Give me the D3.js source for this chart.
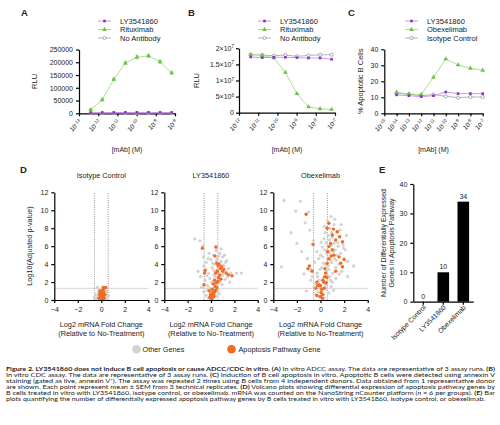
<!DOCTYPE html>
<html>
<head>
<meta charset="utf-8">
<script src="https://cdn.jsdelivr.net/npm/d3@7"></script>
<style>
body { margin: 0; background: #fff; }
svg { display: block; }
text { font-family: "Liberation Sans", Arial, sans-serif; fill: #222; }
.cap text { font-family: Lato, "Open Sans", sans-serif; }
</style>
</head>
<body>
<svg id="fig" width="500" height="425"></svg>
<script>

// ---- panels A-C : dose response ----
var concA = [4.07e-13, 1.63e-12, 6.51e-12, 2.6e-11, 1.04e-10, 4.17e-10, 1.67e-9, 6.67e-9];
var concB = [4.07e-12, 1.63e-11, 6.51e-11, 2.6e-10, 1.04e-9, 4.17e-9, 1.67e-8, 6.67e-8];
var concC = [1e-14, 1e-13, 1e-12, 1e-11, 1e-10, 1e-9, 1e-8, 1e-7];

var adccLY = [2500, 2800, 3000, 3200, 3400, 3500, 3300, 3000];
var adccRitux = [14000, 53000, 133000, 197000, 220000, 225000, 202000, 158000];
var adccRituxErr = [2500, 4000, 5000, 4500, 7000, 5500, 5000, 4000];
var adccNoAb = [1200, 1200, 1300, 1300, 1200, 1300, 1200, 1200];

var cdcLY = [1.73e7, 1.71e7, 1.72e7, 1.72e7, 1.71e7, 1.70e7, 1.70e7, 1.66e7];
var cdcRitux = [1.81e7, 1.78e7, 1.70e7, 1.25e7, 5.9e6, 1.8e6, 1.2e6, 1.0e6];
var cdcNoAb = [1.80e7, 1.79e7, 1.77e7, 1.79e7, 1.75e7, 1.78e7, 1.80e7, 1.80e7];

var apopLY = [11.5, 11.0, 10.4, 11.0, 13.3, 12.3, 12.3, 12.3];
var apopObex = [13.1, 12.1, 11.7, 22.5, 34.0, 30.2, 28.1, 26.9];
var apopIso = [12.5, 11.9, 11.0, 11.7, 10.6, 9.8, 10.2, 10.2];

var expA = [-13, -12, -11, -10, -9, -8];
var expB = [-12, -11, -10, -9, -8, -7];
var expC = [-15, -14, -13, -12, -11, -10, -9, -8, -7];

var ticksA = [0, 50000, 100000, 150000, 200000, 250000];
var ticksB = [0, 5e6, 1e7, 1.5e7, 2e7];
var ticksBMant = ["0", "5", "1", "1.5", "2"];
var ticksBExp = ["", "6", "7", "7", "7"];
var ticksC = [0, 10, 20, 30, 40];

// ---- panel D : volcano plots [log2 FC, -log10 adj p] ----
var isoOther = [[-0.4,0.2],[-0.3,0.5],[-0.25,0.9],[-0.2,1.2],[-0.15,0.3],[-0.1,0.7],[-0.05,1.0],[0,0.4],[0.05,0.8],[0.1,1.1],[0.15,0.2],[0.2,0.6],[0.25,0.9],[0.3,1.3],[0.35,0.4],[0.4,0.7],[0.45,1.0],[-0.35,1.4],[0.5,0.3],[-0.5,0.6],[0.1,1.45],[-0.1,0.1],[0.3,0.1],[0.6,0.5],[-0.6,0.3]];
var isoApop = [[-0.2,0.2],[-0.1,0.5],[0,0.3],[0,0.8],[0.05,0.1],[0.1,0.6],[0.1,1.0],[0.15,0.3],[0.2,0.5],[0.2,0.9],[-0.15,0.7],[0.25,0.2],[0.05,0.5],[-0.05,0.2],[0.3,0.6],[0.15,1.2],[0.2,1.4],[0.38,1.4],[-0.1,1.0],[0.12,0.05]];

var lyOther = [[-1.4,6.8],[-0.95,6.6],[-0.7,6.0],[-1.1,3.2],[-0.9,2.6],[-0.6,3.8],[-0.5,2.2],[-0.4,4.2],[-0.3,1.6],[-0.2,3.0],[-0.1,2.4],[0,4.5],[0.1,3.6],[0.15,1.8],[0.2,5.0],[0.25,2.8],[0.3,4.0],[0.35,1.5],[0.4,3.2],[0.45,5.5],[0.5,2.2],[0.55,4.6],[0.6,3.0],[0.65,1.9],[0.7,3.9],[0.75,5.2],[0.8,2.5],[0.85,4.3],[0.9,3.4],[0.95,1.7],[1.0,4.8],[1.05,2.9],[1.1,3.8],[1.2,2.3],[1.25,4.2],[1.3,3.1],[1.4,2.6],[1.5,3.5],[1.6,2.0],[1.7,3.0],[2.2,3.0],[2.6,3.0],[-0.8,1.4],[-0.6,0.9],[-0.4,0.5],[-0.2,0.2],[0,0.8],[0.1,0.3],[0.2,1.2],[0.3,0.6],[0.4,0.9],[0.5,0.4],[0.6,1.1],[0.7,0.7],[-0.3,1.1],[-0.1,1.3],[0.05,2.0],[0.35,2.6],[0.55,3.4],[0.75,2.0],[0.95,2.7],[-0.45,3.4],[-0.25,4.6],[0.15,4.1],[0.65,4.9],[0.85,5.7],[0.4,5.9],[-0.15,5.2],[1.15,5.0],[1.35,4.4],[-0.65,4.8],[-0.35,2.7],[0.25,3.3],[0.45,4.4],[1.0,3.9]];
var lyApop = [[-0.74,5.76],[0.43,5.9],[-0.51,3.3],[-0.55,3.0],[0.34,4.9],[0.5,4.1],[0.6,3.8],[0.7,4.0],[0.8,3.5],[0.9,3.7],[1.0,3.2],[1.1,3.4],[1.3,3.0],[1.5,2.8],[1.8,2.7],[0.55,3.2],[0.75,2.8],[0.4,3.0],[0.3,2.2],[0.2,1.8],[0.35,1.5],[0.45,1.9],[0.6,2.1],[0.1,1.2],[0.15,0.8],[0.05,0.5],[0,0.2],[-0.05,0.6],[0.25,0.4],[0.3,0.9],[-0.1,0.3],[0.1,0.1],[0.2,0.6],[0.4,1.1],[0.5,1.4],[-0.15,1.0],[0.65,2.5],[0.85,2.3],[-0.6,1.7]];

var obexOther = [[-3.1,11.1],[-1.7,11.0],[-2.1,9.9],[-1.0,9.8],[-1.3,8.6],[-2.5,7.5],[-3.3,3.7],[-2.0,6.3],[-1.6,5.4],[2.8,3.8],[2.3,4.3],[2.1,5.6],[-0.8,3.4],[-0.7,2.6],[-0.5,4.2],[-0.4,1.8],[-0.3,3.0],[-0.2,0.9],[-0.1,2.2],[0,1.4],[0.1,3.6],[0.2,0.6],[0.2,4.8],[0.3,2.5],[0.35,5.6],[0.4,1.6],[0.45,3.9],[0.5,6.4],[0.55,2.8],[0.6,4.6],[0.65,7.2],[0.7,3.4],[0.75,5.3],[0.8,8.0],[0.85,2.2],[0.9,6.1],[0.95,4.2],[1.0,7.0],[1.05,3.0],[1.1,5.4],[1.15,8.4],[1.2,4.6],[1.25,6.6],[1.3,3.6],[1.35,7.6],[1.4,5.0],[1.5,6.0],[1.55,4.0],[1.6,7.0],[1.7,5.2],[1.8,3.2],[1.9,6.2],[2.0,4.6],[0.6,8.8],[0.9,9.3],[1.2,9.0],[0.4,7.5],[0.3,6.8],[0.15,5.9],[0,5.0],[-0.15,4.6],[-0.3,5.4],[-0.6,6.6],[-0.9,7.8],[-0.4,0.6],[-0.1,0.3],[0.1,1.0],[0.3,0.2],[0.5,1.3],[0.7,0.8],[0.9,1.5],[1.1,1.1],[0.25,1.9],[0.55,2.0],[0.8,2.6],[1.0,2.0],[1.3,2.4],[1.6,2.9],[0.45,3.3],[0.65,3.8],[0.85,4.4],[1.05,5.0],[1.25,5.6],[1.45,6.4],[1.65,7.8],[0.75,6.7],[0.95,7.5],[1.15,6.3],[1.35,4.4],[0.55,5.2],[0.25,4.1],[-0.05,3.4],[-0.25,2.6],[-0.55,1.4],[-0.85,2.2],[-1.1,4.6],[-1.2,1.0],[0.05,6.4],[0.35,8.2],[1.75,8.4],[2.2,7.2],[1.95,5.8],[2.3,2.6],[-1.4,2.9]];
var obexApop = [[-1.22,9.55],[-0.63,6.2],[-0.94,3.8],[-1.06,3.5],[-0.71,3.2],[-0.3,2.0],[-0.25,1.6],[-0.4,1.3],[-0.1,1.7],[-0.3,0.5],[0,0.4],[0.05,0.8],[0.1,1.2],[0,1.6],[0.15,0.2],[0.2,0.6],[0.71,8.55],[0.57,8.0],[1.0,7.25],[1.43,7.6],[1.63,7.06],[1.29,6.7],[1.86,6.5],[0.71,5.95],[1.0,5.6],[1.14,5.0],[1.57,4.8],[1.71,4.1],[0.71,4.6],[0.57,4.1],[0.37,3.5],[0.43,3.0],[0.2,2.2],[0.29,2.0],[0.49,1.9],[1.86,3.7],[1.29,3.2],[2.0,4.5],[0.85,6.3],[0.6,5.4],[1.1,7.9],[0.9,4.9],[0.35,2.6],[0.3,1.3],[0.55,2.5]];

// ---- panel E ----
var degCats = ["Isotype Control", "LY3541860", "Obexelimab"];
var degCounts = [0, 10, 34];

var captionLines = [
	[["b", "Figure 2. LY3541860 does not induce B cell apoptosis or cause ADCC/CDC in vitro. "], ["b", "(A)"], ["", " In vitro ADCC assay. The data are representative of 3 assay runs. "], ["b", "(B)"]],
	[["", "In vitro CDC assay. The data are representative of 3 assay runs. "], ["b", "(C)"], ["", " Induction of B cell apoptosis in vitro. Apoptotic B cells were detected using annexin V"]],
	[["", "staining (gated as live, annexin V\u207A). The assay was repeated 2 times using B cells from 4 independent donors. Data obtained from 1 representative donor"]],
	[["", "are shown. Each point represent mean \u00B1 SEM from 3 technical replicates. "], ["b", "(D)"], ["", " Volcano plots showing differential expression of apoptosis pathway genes by"]],
	[["", "B cells treated in vitro with LY3541860, isotype control, or obexelimab. mRNA was counted on the NanoString nCounter platform ("], ["i", "n"], ["", " = 6 per groups). "], ["b", "(E)"], ["", " Bar"]],
	[["", "plots quantifying the number of differentially expressed apoptosis pathway genes by B cells treated in vitro with LY3541860, isotype control, or obexelimab."]]
];

var PURPLE = "#8a2fcf", PURPLE_L = "#c48fe8";
var GREEN = "#6cc24a", GREEN_L = "#9fdc80";
var GREY = "#8c8c8c", GREY_L = "#aaaaaa";
var ORANGE = "#f26b21", LIGHT = "#d2d2d2";

var svg = d3.select("#fig");
svg.append("rect").attr("width", 500).attr("height", 425).attr("fill", "#fff");

function styleAxis(g)
{
	g.selectAll("path,line").attr("stroke", "#000").attr("stroke-width", 1.2);
	g.selectAll("text").style("font-size", "7px").attr("fill", "#222");
}

function drawMarker(g, kind, x, y, color)
{
	if(kind == "square")
		g.append("rect").attr("x", x - 1.3).attr("y", y - 1.3).attr("width", 2.6).attr("height", 2.6).attr("fill", color);
	else if(kind == "tri")
		g.append("path").attr("d", d3.symbol().type(d3.symbolTriangle).size(10)()).attr("transform", "translate(" + x + "," + y + ")").attr("fill", color);
	else
		g.append("circle").attr("cx", x).attr("cy", y).attr("r", 1.6).attr("fill", "#fff").attr("stroke", color).attr("stroke-width", 0.7);
}

function dosePanel(opt)
{
	var g = svg.append("g");
	var x = d3.scaleLog().domain(opt.xDomain).range(opt.xRange);
	var y = d3.scaleLinear().domain(opt.yDomain).range(opt.yRange);

	var xa = g.append("g").attr("transform", "translate(0," + opt.yRange[0] + ")")
		.call(d3.axisBottom(x).tickValues(opt.exps.map(function(e) { return Math.pow(10, e); })).tickFormat("").tickSize(3).tickSizeOuter(0));
	styleAxis(xa);
	opt.exps.forEach(function(e)
	{
		var t = g.append("text").attr("text-anchor", "end").style("font-size", "6.5px")
			.attr("transform", "translate(" + (x(Math.pow(10, e)) + 3) + "," + (opt.yRange[0] + 9) + ") rotate(-45)");
		t.append("tspan").text("10");
		t.append("tspan").attr("dy", -2.5).style("font-size", "4.5px").text(e);
	});

	var ya = g.append("g").attr("transform", "translate(" + opt.xRange[0] + ",0)")
		.call(d3.axisLeft(y).tickValues(opt.yTicks).tickSize(3).tickSizeOuter(0).tickFormat(opt.yFormat || ""));
	styleAxis(ya);
	if(opt.yMant)
	{
		opt.yTicks.forEach(function(v, i)
		{
			var t = g.append("text").attr("text-anchor", "end").attr("x", opt.xRange[0] - 5).attr("y", y(v) + 2.5).style("font-size", "7px");
			t.append("tspan").text(opt.yMant[i] + (opt.yExp[i] ? "\u00D710" : ""));
			if(opt.yExp[i]) t.append("tspan").attr("dy", -2.5).style("font-size", "4.5px").text(opt.yExp[i]);
		});
	}

	opt.series.forEach(function(s)
	{
		var pts = s.values.map(function(v, i) { return [x(opt.conc[i]), y(v)]; });
		g.append("path").attr("d", d3.line()(pts)).attr("fill", "none").attr("stroke", s.line).attr("stroke-width", 0.9);
		if(s.err)
		{
			s.values.forEach(function(v, i)
			{
				var cx = x(opt.conc[i]);
				g.append("path").attr("d", "M" + (cx - 1.5) + "," + y(v + s.err[i]) + "h3M" + cx + "," + y(v + s.err[i]) + "V" + y(v - s.err[i]) + "M" + (cx - 1.5) + "," + y(v - s.err[i]) + "h3")
					.attr("stroke", s.color).attr("stroke-width", 0.6).attr("fill", "none");
			});
		}
		pts.forEach(function(p) { drawMarker(g, s.marker, p[0], p[1], s.color); });
	});

	// legend
	opt.legend.forEach(function(s, i)
	{
		var ly = 21 + i * 8.5;
		g.append("line").attr("x1", opt.legX).attr("x2", opt.legX + 13).attr("y1", ly).attr("y2", ly).attr("stroke", s.line).attr("stroke-width", 0.9);
		drawMarker(g, s.marker, opt.legX + 6.5, ly, s.color);
		g.append("text").attr("x", opt.legX + 22).attr("y", ly + 2.6).style("font-size", "7.5px").text(s.name);
	});

	g.append("text").attr("x", (opt.xRange[0] + opt.xRange[1]) / 2).attr("y", 152).attr("text-anchor", "middle").style("font-size", "7px").text("[mAb]  (M)");
	g.append("text").attr("transform", "translate(" + opt.yLabX + "," + (opt.yRange[0] + opt.yRange[1]) / 2 + ") rotate(-90)")
		.attr("text-anchor", "middle").style("font-size", "7.5px").text(opt.yLabel);
	g.append("text").attr("x", opt.tag[1]).attr("y", 16).style("font-size", "9.5px").style("font-weight", "bold").attr("fill", "#000").text(opt.tag[0]);
}

var sLY = { name: "LY3541860", color: PURPLE, line: PURPLE_L, marker: "square" };
var sRit = { name: "Rituximab", color: GREEN, line: GREEN_L, marker: "tri" };
var sObx = { name: "Obexelimab", color: GREEN, line: GREEN_L, marker: "tri" };
var sNo = { name: "No Antibody", color: GREY, line: GREY_L, marker: "circle" };
var sIso = { name: "Isotype Control", color: GREY, line: GREY_L, marker: "circle" };

dosePanel({
	tag: ["A", 21], conc: concA, exps: expA, xDomain: [1e-13, 1e-8], xRange: [79, 175],
	yDomain: [0, 250000], yRange: [113.3, 49.5], yTicks: ticksA, yFormat: d3.format("d"),
	yLabel: "RLU", yLabX: 37, legX: 98,
	series: [Object.assign({}, sNo, { values: adccNoAb }), Object.assign({}, sRit, { values: adccRitux, err: adccRituxErr }), Object.assign({}, sLY, { values: adccLY })],
	legend: [sLY, sRit, sNo]
});

dosePanel({
	tag: ["B", 188], conc: concB, exps: expB, xDomain: [1e-12, 1e-7], xRange: [239, 335],
	yDomain: [0, 2e7], yRange: [112.7, 48.3], yTicks: ticksB, yMant: ticksBMant, yExp: ticksBExp,
	yLabel: "RLU", yLabX: 199, legX: 258,
	series: [Object.assign({}, sNo, { values: cdcNoAb }), Object.assign({}, sRit, { values: cdcRitux }), Object.assign({}, sLY, { values: cdcLY })],
	legend: [sLY, sRit, sNo]
});

dosePanel({
	tag: ["C", 348], conc: concC, exps: expC, xDomain: [1e-15, 1e-7], xRange: [384.3, 482.7],
	yDomain: [0, 40], yRange: [113.3, 49.3], yTicks: ticksC, yFormat: d3.format("d"),
	yLabel: "% Apoptotic B Cells", yLabX: 363, legX: 405,
	series: [Object.assign({}, sIso, { values: apopIso }), Object.assign({}, sObx, { values: apopObex }), Object.assign({}, sLY, { values: apopLY })],
	legend: [sLY, sObx, sIso]
});

// ---- volcano plots ----
function volcano(title, other, apop, x0, x1, showYLabel)
{
	var g = svg.append("g");
	var x = d3.scaleLinear().domain([-4, 4]).range([x0, x1]);
	var y = d3.scaleLinear().domain([0, 12]).range([300, 192.3]);

	g.append("line").attr("x1", x0).attr("x2", x1).attr("y1", y(1.3)).attr("y2", y(1.3)).attr("stroke", "#d6d6d6").attr("stroke-width", 1);
	[-0.585, 0.585].forEach(function(v)
	{
		g.append("line").attr("x1", x(v)).attr("x2", x(v)).attr("y1", y(0)).attr("y2", y(12))
			.attr("stroke", "#666").attr("stroke-width", 0.7).attr("stroke-dasharray", "1,1.3");
	});
	g.selectAll(".o").data(other).enter().append("circle")
		.attr("cx", function(d) { return x(d[0]); }).attr("cy", function(d) { return y(d[1]); })
		.attr("r", 1.6).attr("fill", LIGHT);
	g.selectAll(".a").data(apop).enter().append("circle")
		.attr("cx", function(d) { return x(d[0]); }).attr("cy", function(d) { return y(d[1]); })
		.attr("r", 1.7).attr("fill", ORANGE);

	var xa = g.append("g").attr("transform", "translate(0,300)").call(d3.axisBottom(x).tickValues([-4, -2, 0, 2, 4]).tickSize(3).tickSizeOuter(0));
	styleAxis(xa);
	xa.selectAll("text").attr("dy", "0.9em");
	var ya = g.append("g").attr("transform", "translate(" + x0 + ",0)").call(d3.axisLeft(y).tickValues([0, 2, 4, 6, 8, 10, 12]).tickSize(3).tickSizeOuter(0));
	styleAxis(ya);

	var cx = (x0 + x1) / 2;
	g.append("text").attr("x", cx).attr("y", 177.5).attr("text-anchor", "middle").style("font-size", "7.3px").text(title);
	g.append("text").attr("x", cx).attr("y", 326.5).attr("text-anchor", "middle").style("font-size", "7.3px").text("Log2 mRNA Fold Change");
	g.append("text").attr("x", cx).attr("y", 335.5).attr("text-anchor", "middle").style("font-size", "7.3px").text("(Relative to No-Treatment)");
	if(showYLabel)
		g.append("text").attr("transform", "translate(32,246) rotate(-90)").attr("text-anchor", "middle").style("font-size", "7.3px").text("Log10(Adjusted p-value)");
}

volcano("Isotype  Control", isoOther, isoApop, 54.3, 148.3, true);
volcano("LY3541860", lyOther, lyApop, 164.3, 257.7, false);
volcano("Obexelimab", obexOther, obexApop, 273.3, 367.7, false);

svg.append("text").attr("x", 20).attr("y", 173).style("font-size", "9.5px").style("font-weight", "bold").attr("fill", "#000").text("D");

svg.append("circle").attr("cx", 136.5).attr("cy", 349.3).attr("r", 4.3).attr("fill", LIGHT);
svg.append("text").attr("x", 142.5).attr("y", 352).style("font-size", "7.3px").text("Other Genes");
svg.append("circle").attr("cx", 231.5).attr("cy", 349.3).attr("r", 4.3).attr("fill", ORANGE);
svg.append("text").attr("x", 238.5).attr("y", 352).style("font-size", "7.3px").text("Apoptosis Pathway Gene");

// ---- panel E ----
(function()
{
	var g = svg.append("g");
	var x = d3.scaleBand().domain(degCats).range([413.3, 473.3]).paddingInner(0.42).paddingOuter(0.21);
	var y = d3.scaleLinear().domain([0, 40]).range([301.7, 184]);

	g.selectAll("rect").data(degCounts).enter().append("rect")
		.attr("x", function(d, i) { return x(degCats[i]); })
		.attr("width", x.bandwidth())
		.attr("y", function(d) { return y(d); })
		.attr("height", function(d) { return y(0) - y(d); })
		.attr("fill", "#000");
	g.selectAll(".v").data(degCounts).enter().append("text")
		.attr("x", function(d, i) { return x(degCats[i]) + x.bandwidth() / 2; })
		.attr("y", function(d) { return y(d) - 3; })
		.attr("text-anchor", "middle").style("font-size", "7px")
		.text(function(d) { return d; });

	var xa = g.append("g").attr("transform", "translate(0,301.7)").call(d3.axisBottom(x).tickSize(3).tickSizeOuter(0).tickFormat(""));
	styleAxis(xa);
	degCats.forEach(function(c)
	{
		g.append("text").attr("text-anchor", "end").style("font-size", "6.8px")
			.attr("transform", "translate(" + (x(c) + x.bandwidth() / 2 + 3) + ",308) rotate(-45)").text(c);
	});
	var ya = g.append("g").attr("transform", "translate(413.3,0)").call(d3.axisLeft(y).tickValues([0, 10, 20, 30, 40]).tickSize(3).tickSizeOuter(0));
	styleAxis(ya);

	g.append("text").attr("transform", "translate(386,243) rotate(-90)").attr("text-anchor", "middle").style("font-size", "7px").text("Number of Differentially Expressed");
	g.append("text").attr("transform", "translate(394,243) rotate(-90)").attr("text-anchor", "middle").style("font-size", "7px").text("Genes in  Apoptosis Pathway");
	g.append("text").attr("x", 379).attr("y", 173).style("font-size", "9.5px").style("font-weight", "bold").attr("fill", "#000").text("E");
})();

// ---- caption ----
var cap = svg.append("g").attr("class", "cap");
captionLines.forEach(function(line, i)
{
	var t = cap.append("text").attr("x", 6).attr("y", 371.3 + i * 6).style("font-size", "5.6px")
		.attr("textLength", i == 5 ? 479 : 489).attr("lengthAdjust", "spacingAndGlyphs");
	line.forEach(function(part)
	{
		var s = t.append("tspan").text(part[1]);
		if(part[0] == "b") s.style("font-weight", "bold");
		if(part[0] == "i") s.style("font-style", "italic");
	});
});

</script>
</body>
</html>
